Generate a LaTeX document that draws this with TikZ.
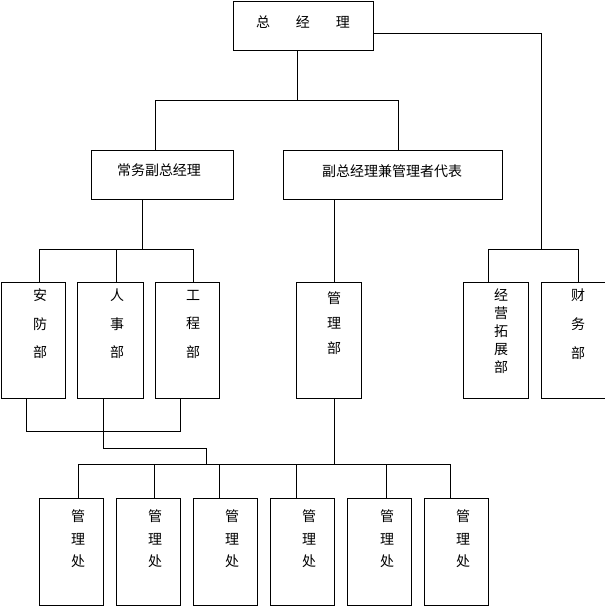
\documentclass[tikz,border=0pt]{standalone}
\usepackage{fontspec}
\newfontfamily\cjk{Noto Sans CJK SC}
\tikzset{
  box/.style={draw, line width=1pt, inner sep=0pt, anchor=north west, minimum width=#1},
  box/.default=64pt,
  lbl/.style={inner sep=0pt, align=center, font=\cjk\fontsize{14}{#1}\selectfont},
  lbl/.default=22,
  con/.style={line width=1pt},
}
\begin{document}
\begin{tikzpicture}[x=1pt,y=-1pt]
\useasboundingbox (0,0) rectangle (605,606);
% boxes
\node[box=140pt, minimum height=49.5pt] (T) at (233,0.5) {};
\node[box=142pt, minimum height=49pt] (A) at (91,150) {};
\node[box=219pt, minimum height=49pt] (B) at (283,150) {};
\node[box=64.5pt, minimum height=116pt] (D1) at (0.5,282) {};
\node[box=66pt, minimum height=116pt] (D2) at (77,282) {};
\node[box=64pt, minimum height=116pt] (D3) at (155,282) {};
\node[box=65pt, minimum height=116pt] (D4) at (296,282) {};
\node[box=65pt, minimum height=116pt] (D5) at (463,282) {};
\node[box=63.5pt, minimum height=116pt] (D6) at (541,282) {};
\foreach \i/\x in {1/39,2/116,3/193,4/270,5/347,6/424}
  \node[box=64pt, minimum height=107pt] (P\i) at (\x,498) {};
% texts
\node[lbl] (tT) at (303,22) {总\hspace{26pt}经\hspace{26pt}理};
\node[lbl] (tA) at (159,170) {常务副总经理};
\node[lbl] (tB) at (392,171) {副总经理兼管理者代表};
\node[lbl=28.5] (tD1) at (40,324) {安\\防\\部};
\node[lbl=28.5] (tD2) at (117,324) {人\\事\\部};
\node[lbl=28.5] (tD3) at (193,324) {工\\程\\部};
\node[lbl=25] (tD4) at (334,323) {管\\理\\部};
\node[lbl=18] (tD5) at (501,331) {经\\营\\拓\\展\\部};
\node[lbl=29] (tD6) at (578,324) {财\\务\\部};
\foreach \i/\x in {1/78,2/155,3/232,4/309,5/387,6/463}
  \node[lbl=22.5] (tP\i) at (\x,539) {管\\理\\处};
% junction coordinates
\coordinate (t1) at (297,100);
\coordinate (a1) at (155,100);
\coordinate (b1) at (398,100);
\coordinate (r1) at (541,249);
\coordinate (c1) at (488,249);
\coordinate (c2) at (578,249);
\coordinate (s1) at (142,249);
\coordinate (d1) at (39,249);
\coordinate (d2) at (116,249);
\coordinate (d3) at (193,249);
\coordinate (e1) at (26,431);
\coordinate (e3) at (180,431);
\coordinate (f1) at (103,448);
\coordinate (f2) at (206,448);
\coordinate (g) at (206,464);
\coordinate (m1) at (334,250);
\coordinate (m2) at (334,464);
\coordinate (h1) at (78,464);
\coordinate (h6) at (450,464);
\foreach \i/\x in {1/78,2/154,3/219,4/296,5/386,6/450}
  \coordinate (p\i) at (\x,464);
% connectors
\draw[con] (T.south -| t1) -- (t1);
\draw[con] (a1) -- (b1);
\draw[con] (a1) -- (A.north -| a1);
\draw[con] (b1) -- (B.north -| b1);
\draw[con] ([yshift=-33pt]T.north east) -| (r1);
\draw[con] (c1) -- (c2);
\draw[con] (c1) -- (D5.north -| c1);
\draw[con] (c2) -- (D6.north -| c2);
\draw[con] (A.south -| s1) -- (s1);
\draw[con] (d1) -- (d3);
\draw[con] (d1) -- (D1.north -| d1);
\draw[con] (d2) -- (D2.north -| d2);
\draw[con] (d3) -- (D3.north -| d3);
\draw[con] (D1.south -| e1) -- (e1) -- (e3) -- (D3.south -| e3);
\draw[con] (D2.south -| f1) -- (f1) -- (f2) -- (g);
\draw[con] (B.south -| m1) -- (D4.north -| m1);
\draw[con] (D4.south -| m2) -- (m2);
\draw[con] (h1) -- (h6);
\foreach \i in {1,...,6}
  \draw[con] (p\i) -- (P\i.north -| p\i);
\end{tikzpicture}
\end{document}
